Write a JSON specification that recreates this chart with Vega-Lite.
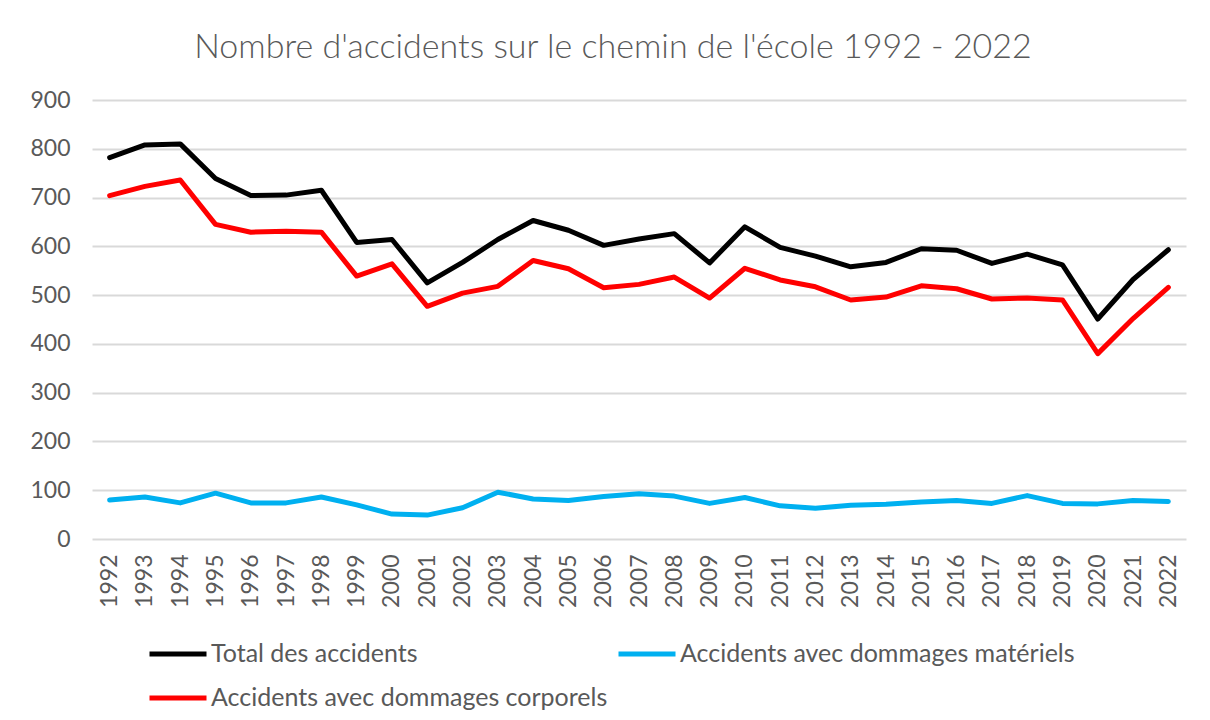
{
  "$schema": "https://vega.github.io/schema/vega-lite/v6.json",
  "width": 1094,
  "height": 439,
  "autosize": {"type": "none"},
  "padding": {"left": 92, "top": 100, "right": 24, "bottom": 181},
  "background": "white",
  "title": {
    "text": "Nombre d'accidents sur le chemin de l'école 1992 - 2022",
    "anchor": "middle",
    "dx": -26,
    "offset": 24,
    "fontSize": 34,
    "font": "Lato",
    "fontWeight": 300,
    "color": "#595959"
  },
  "data": {
    "values": [
      {"year": "1992", "serie": "Total des accidents", "value": 782},
      {"year": "1993", "serie": "Total des accidents", "value": 808},
      {"year": "1994", "serie": "Total des accidents", "value": 810},
      {"year": "1995", "serie": "Total des accidents", "value": 739},
      {"year": "1996", "serie": "Total des accidents", "value": 704},
      {"year": "1997", "serie": "Total des accidents", "value": 705},
      {"year": "1998", "serie": "Total des accidents", "value": 715},
      {"year": "1999", "serie": "Total des accidents", "value": 608},
      {"year": "2000", "serie": "Total des accidents", "value": 614},
      {"year": "2001", "serie": "Total des accidents", "value": 525},
      {"year": "2002", "serie": "Total des accidents", "value": 567},
      {"year": "2003", "serie": "Total des accidents", "value": 614},
      {"year": "2004", "serie": "Total des accidents", "value": 653},
      {"year": "2005", "serie": "Total des accidents", "value": 633},
      {"year": "2006", "serie": "Total des accidents", "value": 602},
      {"year": "2007", "serie": "Total des accidents", "value": 615},
      {"year": "2008", "serie": "Total des accidents", "value": 626},
      {"year": "2009", "serie": "Total des accidents", "value": 566},
      {"year": "2010", "serie": "Total des accidents", "value": 640},
      {"year": "2011", "serie": "Total des accidents", "value": 598},
      {"year": "2012", "serie": "Total des accidents", "value": 580},
      {"year": "2013", "serie": "Total des accidents", "value": 558},
      {"year": "2014", "serie": "Total des accidents", "value": 567},
      {"year": "2015", "serie": "Total des accidents", "value": 595},
      {"year": "2016", "serie": "Total des accidents", "value": 592},
      {"year": "2017", "serie": "Total des accidents", "value": 565},
      {"year": "2018", "serie": "Total des accidents", "value": 584},
      {"year": "2019", "serie": "Total des accidents", "value": 562},
      {"year": "2020", "serie": "Total des accidents", "value": 451},
      {"year": "2021", "serie": "Total des accidents", "value": 532},
      {"year": "2022", "serie": "Total des accidents", "value": 593},
      {"year": "1992", "serie": "Accidents avec dommages matériels", "value": 80},
      {"year": "1993", "serie": "Accidents avec dommages matériels", "value": 86},
      {"year": "1994", "serie": "Accidents avec dommages matériels", "value": 74},
      {"year": "1995", "serie": "Accidents avec dommages matériels", "value": 94},
      {"year": "1996", "serie": "Accidents avec dommages matériels", "value": 74},
      {"year": "1997", "serie": "Accidents avec dommages matériels", "value": 74},
      {"year": "1998", "serie": "Accidents avec dommages matériels", "value": 86},
      {"year": "1999", "serie": "Accidents avec dommages matériels", "value": 70},
      {"year": "2000", "serie": "Accidents avec dommages matériels", "value": 51},
      {"year": "2001", "serie": "Accidents avec dommages matériels", "value": 49},
      {"year": "2002", "serie": "Accidents avec dommages matériels", "value": 64},
      {"year": "2003", "serie": "Accidents avec dommages matériels", "value": 96},
      {"year": "2004", "serie": "Accidents avec dommages matériels", "value": 82},
      {"year": "2005", "serie": "Accidents avec dommages matériels", "value": 79},
      {"year": "2006", "serie": "Accidents avec dommages matériels", "value": 87},
      {"year": "2007", "serie": "Accidents avec dommages matériels", "value": 93},
      {"year": "2008", "serie": "Accidents avec dommages matériels", "value": 88},
      {"year": "2009", "serie": "Accidents avec dommages matériels", "value": 73},
      {"year": "2010", "serie": "Accidents avec dommages matériels", "value": 85},
      {"year": "2011", "serie": "Accidents avec dommages matériels", "value": 68},
      {"year": "2012", "serie": "Accidents avec dommages matériels", "value": 63},
      {"year": "2013", "serie": "Accidents avec dommages matériels", "value": 69},
      {"year": "2014", "serie": "Accidents avec dommages matériels", "value": 71},
      {"year": "2015", "serie": "Accidents avec dommages matériels", "value": 76},
      {"year": "2016", "serie": "Accidents avec dommages matériels", "value": 79},
      {"year": "2017", "serie": "Accidents avec dommages matériels", "value": 73},
      {"year": "2018", "serie": "Accidents avec dommages matériels", "value": 89},
      {"year": "2019", "serie": "Accidents avec dommages matériels", "value": 73},
      {"year": "2020", "serie": "Accidents avec dommages matériels", "value": 72},
      {"year": "2021", "serie": "Accidents avec dommages matériels", "value": 79},
      {"year": "2022", "serie": "Accidents avec dommages matériels", "value": 77},
      {"year": "1992", "serie": "Accidents avec dommages corporels", "value": 704},
      {"year": "1993", "serie": "Accidents avec dommages corporels", "value": 723},
      {"year": "1994", "serie": "Accidents avec dommages corporels", "value": 736},
      {"year": "1995", "serie": "Accidents avec dommages corporels", "value": 645},
      {"year": "1996", "serie": "Accidents avec dommages corporels", "value": 629},
      {"year": "1997", "serie": "Accidents avec dommages corporels", "value": 631},
      {"year": "1998", "serie": "Accidents avec dommages corporels", "value": 629},
      {"year": "1999", "serie": "Accidents avec dommages corporels", "value": 539},
      {"year": "2000", "serie": "Accidents avec dommages corporels", "value": 564},
      {"year": "2001", "serie": "Accidents avec dommages corporels", "value": 477},
      {"year": "2002", "serie": "Accidents avec dommages corporels", "value": 504},
      {"year": "2003", "serie": "Accidents avec dommages corporels", "value": 518},
      {"year": "2004", "serie": "Accidents avec dommages corporels", "value": 571},
      {"year": "2005", "serie": "Accidents avec dommages corporels", "value": 554},
      {"year": "2006", "serie": "Accidents avec dommages corporels", "value": 515},
      {"year": "2007", "serie": "Accidents avec dommages corporels", "value": 522},
      {"year": "2008", "serie": "Accidents avec dommages corporels", "value": 537},
      {"year": "2009", "serie": "Accidents avec dommages corporels", "value": 494},
      {"year": "2010", "serie": "Accidents avec dommages corporels", "value": 555},
      {"year": "2011", "serie": "Accidents avec dommages corporels", "value": 531},
      {"year": "2012", "serie": "Accidents avec dommages corporels", "value": 517},
      {"year": "2013", "serie": "Accidents avec dommages corporels", "value": 490},
      {"year": "2014", "serie": "Accidents avec dommages corporels", "value": 496},
      {"year": "2015", "serie": "Accidents avec dommages corporels", "value": 519},
      {"year": "2016", "serie": "Accidents avec dommages corporels", "value": 513},
      {"year": "2017", "serie": "Accidents avec dommages corporels", "value": 492},
      {"year": "2018", "serie": "Accidents avec dommages corporels", "value": 494},
      {"year": "2019", "serie": "Accidents avec dommages corporels", "value": 490},
      {"year": "2020", "serie": "Accidents avec dommages corporels", "value": 380},
      {"year": "2021", "serie": "Accidents avec dommages corporels", "value": 452},
      {"year": "2022", "serie": "Accidents avec dommages corporels", "value": 516}
    ]
  },
  "mark": {"type": "line", "strokeWidth": 5, "strokeCap": "round", "strokeJoin": "round"},
  "encoding": {
    "x": {
      "field": "year",
      "type": "ordinal",
      "scale": {"type": "point", "padding": 0.5},
      "axis": {
        "title": null,
        "labelAngle": -90,
        "labelFontSize": 23,
        "labelFont": "Lato",
        "labelColor": "#595959",
        "labelPadding": 15,
        "ticks": false,
        "domain": false,
        "grid": false
      }
    },
    "y": {
      "field": "value",
      "type": "quantitative",
      "scale": {"domain": [0, 900], "nice": false},
      "axis": {
        "title": null,
        "values": [0, 100, 200, 300, 400, 500, 600, 700, 800, 900],
        "labelFontSize": 23,
        "labelFont": "Lato",
        "labelColor": "#595959",
        "labelPadding": 22,
        "ticks": false,
        "domain": false,
        "gridColor": "#d9d9d9",
        "gridWidth": 2
      }
    },
    "color": {
      "field": "serie",
      "type": "nominal",
      "sort": null,
      "scale": {
        "domain": ["Total des accidents", "Accidents avec dommages matériels", "Accidents avec dommages corporels"],
        "range": ["#000000", "#00B0F0", "#FF0000"]
      },
      "legend": {
        "title": null,
        "orient": "none",
        "legendX": 55,
        "legendY": 523,
        "direction": "horizontal",
        "columns": 2,
        "columnPadding": 0,
        "rowPadding": -15,
        "padding": 0,
        "symbolType": "stroke",
        "symbolSize": 3249,
        "symbolStrokeWidth": 5,
        "labelFontSize": 25,
        "labelFont": "Lato",
        "labelColor": "#595959",
        "labelOffset": 2,
        "labelLimit": 600
      }
    }
  },
  "config": {
    "view": {"stroke": null}
  }
}
